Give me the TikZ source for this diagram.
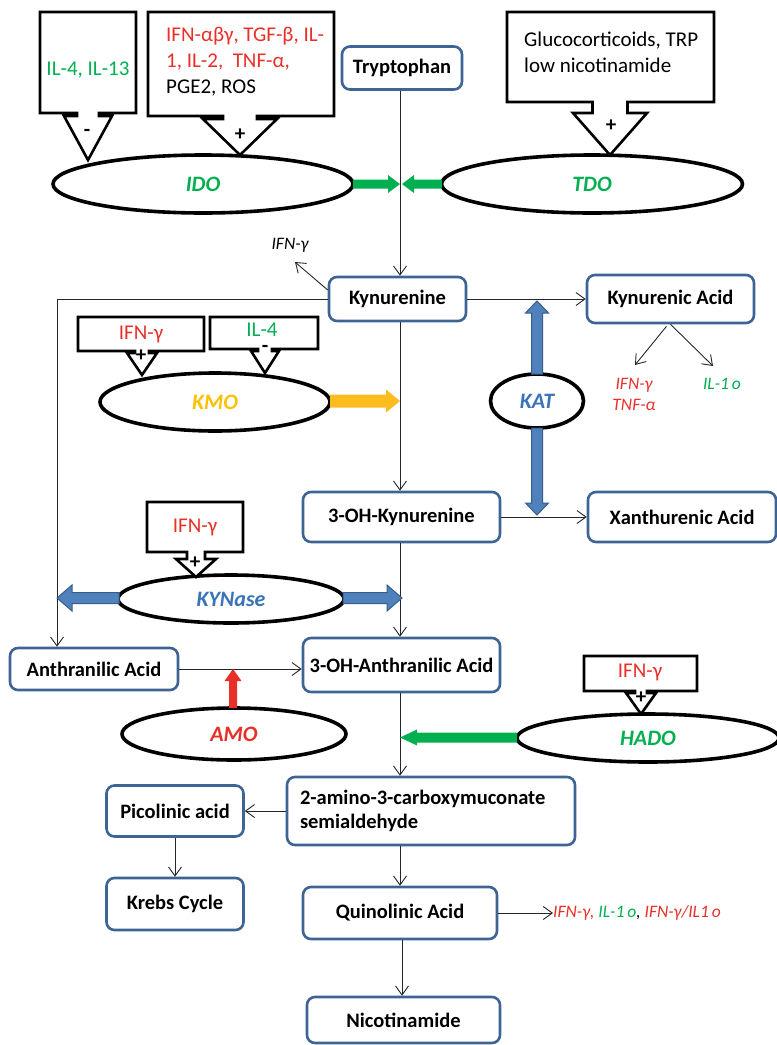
\documentclass[tikz,border=0pt]{standalone}
\usepackage{fontspec}
\setmainfont{Carlito}
\usetikzlibrary{arrows.meta,shapes.geometric}
\definecolor{boxblue}{RGB}{62,100,150}
\definecolor{tgreen}{RGB}{0,176,80}
\definecolor{tred}{RGB}{232,48,40}
\definecolor{torange}{RGB}{255,192,0}
\definecolor{tblue}{RGB}{58,115,185}
\definecolor{ablue}{RGB}{79,129,189}
\definecolor{ablueline}{RGB}{56,93,138}
\definecolor{aorange}{RGB}{251,189,30}
\definecolor{ared}{RGB}{232,48,40}
\tikzset{
  box/.style={draw=boxblue, line width=2.6pt, rounded corners=8pt, fill=white,
    font=\fontsize{20.5}{24}\selectfont\bfseries, inner sep=2pt},
  enz/.style={draw=black, line width=3.6pt, ellipse, fill=white,
    font=\fontsize{22}{24}\selectfont\bfseries\itshape, inner sep=0pt},
  flow/.style={draw=black!85, line width=0.9pt,
    -{Straight Barb[length=9pt,width=13pt,line width=0.9pt]}},
  callout/.style={draw=black, line width=2.6pt, fill=white, line join=miter},
  ctext/.style={font=\fontsize{21}{26}\selectfont, inner sep=0pt},
  sign/.style={font=\fontsize{21}{21}\selectfont\bfseries, inner sep=0pt},
  note/.style={font=\fontsize{17.5}{21}\selectfont\itshape, inner sep=0pt},
  garrow/.style={fill=tgreen},
  barrow/.style={fill=ablue, draw=ablueline, line width=1pt},
  oarrow/.style={fill=aorange},
  rarrow/.style={fill=ared},
}
% callout: x1 y1 x2 y2 cx stemhalf stemlen headhalf tipy
\newcommand\mycallout[9]{\path[callout] (#1,#2) -- (#3,#2) -- (#3,#4) -- ({#5+#6},#4) -- ({#5+#6},{#4+#7}) -- ({#5+#8},{#4+#7}) -- (#5,#9) -- ({#5-#8},{#4+#7}) -- ({#5-#6},{#4+#7}) -- ({#5-#6},#4) -- (#1,#4) -- cycle;}
% horizontal block arrow: style x1 x2 y shafthalf headhalf headlen(signed)
\newcommand\harr[7]{\path[#1] (#2,{#4-#5}) -- ({#3-#7},{#4-#5}) -- ({#3-#7},{#4-#6}) -- (#3,#4) -- ({#3-#7},{#4+#6}) -- ({#3-#7},{#4+#5}) -- (#2,{#4+#5}) -- cycle;}
% vertical block arrow: style y1 y2 x shafthalf headhalf headlen(signed)
\newcommand\varr[7]{\path[#1] ({#4-#5},#2) -- ({#4-#5},{#3-#7}) -- ({#4-#6},{#3-#7}) -- (#4,#3) -- ({#4+#6},{#3-#7}) -- ({#4+#5},{#3-#7}) -- ({#4+#5},#2) -- cycle;}
\begin{document}
\begin{tikzpicture}[x=1pt,y=-1pt]
\useasboundingbox (0,0) rectangle (777,1045);
\fill[white] (0,0) rectangle (777,1045);

% ---- boxes ----
\node[box, minimum width=120pt, minimum height=43pt] (tryp) at (402,68) {Tryptophan};
\node[box, minimum width=137pt, minimum height=44pt] (kyn) at (397.5,299) {Kynurenine};
\node[box, minimum width=167pt, minimum height=48pt] (kyna) at (670.5,299) {Kynurenic Acid};
\node[box, minimum width=197pt, minimum height=50pt] (ohk) at (401.5,517) {3-OH-Kynurenine};
\node[box, minimum width=188pt, minimum height=50pt] (xan) at (682,517) {Xanthurenic Acid};
\node[box, minimum width=168pt, minimum height=42pt] (anth) at (94,669) {Anthranilic Acid};
\node[box, minimum width=197pt, minimum height=54pt] (ohaa) at (401.5,665) {3-OH-Anthranilic Acid};
\node[box, text width=262pt, align=left, inner xsep=13pt, minimum height=68pt] (amino) at (431,811) {2-amino-3-carboxymuconate\\semialdehyde};
\node[box, minimum width=137pt, minimum height=51pt] (pico) at (175,811) {Picolinic acid};
\node[box, minimum width=137pt, minimum height=52pt] (krebs) at (175,904) {Krebs Cycle};
\node[box, minimum width=194pt, minimum height=52pt] (quin) at (400,913) {Quinolinic Acid};
\node[box, minimum width=193pt, minimum height=46pt] (nico) at (403.5,1020) {Nicotinamide};

% ---- axis coordinates ----
\coordinate (ax) at (400,0);
\coordinate (lt) at (57,299);
\coordinate (ifntip) at (295,262);
\coordinate (katip1) at (635,365);
\coordinate (katip2) at (713,366);

% ---- thin connectors ----
\draw[flow] (tryp.south -| ax) -- (kyn.north -| ax);
\draw[flow] (kyn.south -| ax) -- (ohk.north -| ax);
\draw[flow] (ohk.south -| ax) -- (ohaa.north -| ax);
\draw[flow] (ohaa.south -| ax) -- (amino.north -| ax);
\draw[flow] (amino.south -| ax) -- (quin.north -| ax);
\draw[flow] ([xshift=2pt]quin.south -| ax) -- ([xshift=2pt]nico.north -| ax);
\draw[flow] (kyn.east) -- (kyn.east -| kyna.west);
\draw[flow] (ohk.east) -- (ohk.east -| xan.west);
\draw[flow] (kyn.west) -- (lt) -- (lt |- anth.north);
\draw[flow] (anth.east) -- (anth.east -| ohaa.west);
\draw[flow] (amino.west) -- (amino.west -| pico.east);
\draw[flow] (pico) -- (krebs);
\draw[flow] ([yshift=9pt]kyn.west) -- (ifntip);
\draw[flow] ([xshift=-4pt,yshift=-2pt]kyna.south) -- (katip1);
\draw[flow] (kyna.south) -- (katip2);

% ---- notes ----
\node[note] (ifn1) at (290,245) {IFN-γ};
\node[note, text=tred, align=center] (n1) at (634,394) {IFN-γ\\TNF-α};
\node[note, text=tgreen] (n2) at (722,384) {IL-1\,o};
\node[note, anchor=west] (qn) at (553,913) {\textcolor{tred}{IFN-γ,} \textcolor{tgreen}{IL-1\,o}, \textcolor{tred}{IFN-γ/IL1\,o}};
\draw[flow] (quin.east) -- (qn.west);

% ---- enzymes ----
\node[enz, minimum width=300pt, minimum height=58pt, text=tgreen] (ido) at (203,184) {IDO};
\node[enz, minimum width=301pt, minimum height=58pt, text=tgreen] (tdo) at (592,184) {TDO};
\node[enz, minimum width=230pt, minimum height=58pt, text=torange] (kmo) at (215,402) {KMO};
\node[enz, minimum width=93pt, minimum height=54pt, text=tblue] (kat) at (537,401) {KAT};
\node[enz, minimum width=226pt, minimum height=48pt, text=tblue] (kynase) at (231,599) {KYNase};
\node[enz, minimum width=224pt, minimum height=52pt, text=tred] (amo) at (234,734) {AMO};
\node[enz, minimum width=262pt, minimum height=48pt, text=tgreen] (hado) at (648,738) {HADO};

% ---- block arrows ----
\harr{garrow}{353}{400}{184}{4.5}{9}{12}
\harr{garrow}{442}{402}{184}{4.5}{9}{-12}
\harr{oarrow}{330}{400}{401}{6.5}{11.5}{14}
\varr{barrow}{374}{301}{537}{5.5}{11.5}{-12}
\varr{barrow}{428}{515}{537}{5.5}{11.5}{12}
\harr{barrow}{119}{57}{598}{5.5}{13}{-15}
\harr{barrow}{343}{402}{598}{5.5}{13}{15}
\varr{rarrow}{708}{669}{233}{4}{8.5}{-12}
\harr{garrow}{517}{400}{737.5}{5}{8}{-17}

% ---- callouts ----
\mycallout{40}{12}{136}{113}{88}{11}{3}{24}{160}
\node[ctext, text=tgreen] (c1) at (88,70) {IL-4, IL-13};
\node[sign] (s1) at (87,133) {-};

\mycallout{148}{12}{334}{116}{240}{17}{3}{37}{155}
\node[ctext, anchor=north west, align=left] (c2) at (166,27) {\textcolor{tred}{IFN-αβγ, TGF-β, IL-}\\\textcolor{tred}{1, IL-2,\ \ TNF-α,}\\PGE2, ROS};
\node[sign] (s2) at (240,135) {+};

\mycallout{507}{12}{714}{102}{610}{17.5}{11}{37}{155}
\node[ctext, anchor=north west, align=left] (c3) at (524,32) {Glucocorticoids, TRP\\low nicotinamide};
\node[sign] (s3) at (611,126) {+};

\mycallout{78}{317}{204}{351}{142}{7}{2}{15}{375}
\node[ctext, text=tred] (c4) at (141,334) {IFN-γ};
\node[sign] (s4) at (141,356) {+};

\mycallout{210}{317}{318}{349}{265}{7}{2}{14}{373}
\node[ctext, text=tgreen] (c5) at (262,330) {IL-4};
\node[sign] (s5) at (265,349) {-};

\mycallout{147}{502}{243}{552}{196}{9}{7}{20}{577}
\node[ctext, text=tred] (c6) at (195,527) {IFN-γ};
\node[sign] (s6) at (195,563) {+};

\mycallout{584}{656}{697}{691}{641}{6}{2}{15}{714}
\node[ctext, text=tred] (c7) at (640,672) {IFN-γ};
\node[sign] (s7) at (641,698) {+};
\end{tikzpicture}
\end{document}
